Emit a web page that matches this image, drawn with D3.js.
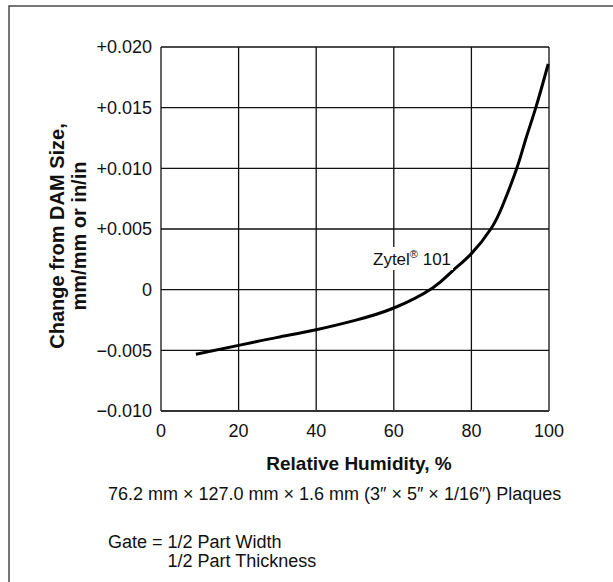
<!DOCTYPE html>
<html>
<head>
<meta charset="utf-8">
<script src="https://cdn.jsdelivr.net/npm/d3@7"></script>
<style>
  html, body { margin: 0; padding: 0; background: #fff; }
  svg { display: block; font-family: "Liberation Sans", Arial, Helvetica, sans-serif; }
</style>
</head>
<body>
<svg id="chart" width="613" height="582"></svg>
<script>
// ---- data ----
const humidity = [9, 20, 30, 40, 50, 60, 70, 75, 80, 85, 88, 91.7, 94, 96.6, 99.8];
const change   = [-0.00533, -0.00459, -0.00393, -0.0033, -0.00253, -0.00151, 0.00014, 0.00151, 0.00297, 0.0050, 0.0069, 0.0100, 0.0124, 0.0150, 0.0186];
const xTicks = [0, 20, 40, 60, 80, 100];
const yTicks = [-0.010, -0.005, 0, 0.005, 0.010, 0.015, 0.020];
const yTickLabels = ["\u22120.010", "\u22120.005", "0", "+0.005", "+0.010", "+0.015", "+0.020"];
const seriesLabel = "Zytel";
const seriesLabelSup = "\u00AE";
const seriesLabelTail = " 101";
const xTitle = "Relative Humidity, %";
const yTitleLines = ["Change from DAM Size,", "mm/mm or in/in"];
const noteLine1 = "76.2 mm \u00D7 127.0 mm \u00D7 1.6 mm (3\u2033 \u00D7 5\u2033 \u00D7 1/16\u2033) Plaques";
const gatePrefix = "Gate = ";
const noteGate = ["1/2 Part Width", "1/2 Part Thickness"];

const svg = d3.select("#chart");

// outer frame (extends past right and bottom edges)
svg.append("rect")
  .attr("x", 9).attr("y", 6).attr("width", 700).attr("height", 700)
  .attr("fill", "none").attr("stroke", "#555").attr("stroke-width", 1.6);

const plot = { left: 161, right: 549, top: 47, bottom: 411 };
const x = d3.scaleLinear().domain([0, 100]).range([plot.left, plot.right]);
const y = d3.scaleLinear().domain([-0.010, 0.020]).range([plot.bottom, plot.top]);

const g = svg.append("g");

// grid
g.selectAll("line.vg").data(xTicks).join("line")
  .attr("class", "vg")
  .attr("x1", d => x(d)).attr("x2", d => x(d))
  .attr("y1", plot.top).attr("y2", plot.bottom)
  .attr("stroke", "#111").attr("stroke-width", 1.3);
g.selectAll("line.hg").data(yTicks).join("line")
  .attr("class", "hg")
  .attr("x1", plot.left).attr("x2", plot.right)
  .attr("y1", d => y(d)).attr("y2", d => y(d))
  .attr("stroke", "#111").attr("stroke-width", 1.3);

// bottom axis line slightly heavier
g.append("line")
  .attr("x1", plot.left).attr("x2", plot.right)
  .attr("y1", plot.bottom).attr("y2", plot.bottom)
  .attr("stroke", "#333").attr("stroke-width", 2);

// tick labels
svg.selectAll("text.yt").data(yTicks).join("text")
  .attr("class", "yt")
  .attr("x", 152).attr("y", d => y(d))
  .attr("dy", "0.36em")
  .attr("text-anchor", "end")
  .attr("font-size", 18)
  .attr("fill", "#111")
  .text((d, i) => yTickLabels[i]);

svg.selectAll("text.xt").data(xTicks).join("text")
  .attr("class", "xt")
  .attr("x", d => x(d)).attr("y", plot.bottom + 26)
  .attr("text-anchor", "middle")
  .attr("font-size", 18)
  .attr("fill", "#111")
  .text(d => d);

// axis titles
svg.append("text")
  .attr("x", 359).attr("y", 470)
  .attr("text-anchor", "middle")
  .attr("font-size", 19).attr("font-weight", "bold")
  .attr("fill", "#111")
  .text(xTitle);

const yt = svg.append("text")
  .attr("transform", "translate(64,236) rotate(-90)")
  .attr("text-anchor", "middle")
  .attr("font-size", 20).attr("font-weight", "bold")
  .attr("fill", "#111");
yt.selectAll("tspan").data(yTitleLines).join("tspan")
  .attr("x", 0).attr("dy", (d, i) => i === 0 ? 0 : 22)
  .text(d => d);

// curve
const pts = humidity.map((h, i) => [h, change[i]]);
const line = d3.line().x(d => x(d[0])).y(d => y(d[1])).curve(d3.curveNatural);
g.append("path")
  .datum(pts)
  .attr("d", line)
  .attr("fill", "none")
  .attr("stroke", "#000")
  .attr("stroke-width", 3)
  .attr("stroke-linecap", "butt");

// series label with white knockout
const lab = svg.append("text")
  .attr("x", 373).attr("y", 265)
  .attr("font-size", 17)
  .attr("fill", "#111");
lab.append("tspan").text(seriesLabel);
lab.append("tspan").attr("font-size", 11).attr("dy", -7).text(seriesLabelSup);
lab.append("tspan").attr("dy", 7).text(seriesLabelTail);
const bb = lab.node().getBBox();
svg.insert("rect", function() { return lab.node(); })
  .attr("x", bb.x - 2).attr("y", bb.y - 1)
  .attr("width", bb.width + 4).attr("height", bb.height + 2)
  .attr("fill", "#fff");

// notes
const noteX = 108;
svg.append("text")
  .attr("x", noteX).attr("y", 500)
  .attr("font-size", 18).attr("fill", "#111")
  .text(noteLine1);
const gateText = svg.append("text")
  .attr("x", noteX).attr("y", 548)
  .attr("font-size", 18).attr("fill", "#111");
const pre = gateText.append("tspan").text(gatePrefix);
gateText.append("tspan").text(noteGate[0]);
const indent = pre.node().getComputedTextLength();
svg.append("text")
  .attr("x", noteX + indent).attr("y", 567)
  .attr("font-size", 18).attr("fill", "#111")
  .text(noteGate[1]);
</script>
</body>
</html>
